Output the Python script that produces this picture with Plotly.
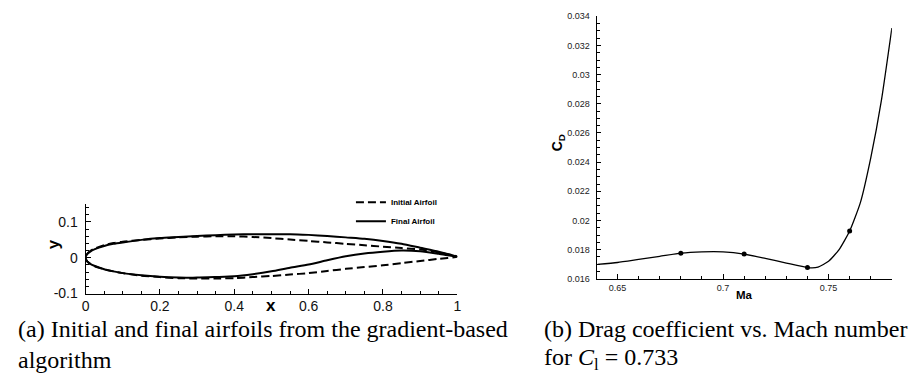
import plotly.graph_objects as go

# ---------------- data: airfoils (panel a) ----------------
x_stations = [0, 0.005, 0.0125, 0.025, 0.05, 0.075, 0.1, 0.15, 0.2, 0.25, 0.3, 0.35,
              0.4, 0.45, 0.5, 0.55, 0.6, 0.65, 0.7, 0.75, 0.8, 0.85, 0.9, 0.95, 1.0]
initial_upper = [0, 0.012, 0.019, 0.026, 0.035, 0.041, 0.045, 0.050, 0.054, 0.057, 0.059, 0.060,
                 0.060, 0.058, 0.055, 0.051, 0.047, 0.043, 0.039, 0.035, 0.031, 0.027, 0.023, 0.015, 0.003]
initial_lower = [0, -0.011, -0.017, -0.024, -0.032, -0.038, -0.043, -0.050, -0.054, -0.057, -0.058, -0.058,
                 -0.057, -0.054, -0.051, -0.047, -0.043, -0.037, -0.031, -0.026, -0.021, -0.015, -0.009, -0.003, 0.003]
final_upper = [0, 0.011, 0.017, 0.024, 0.033, 0.039, 0.043, 0.050, 0.055, 0.058, 0.061, 0.063,
               0.065, 0.066, 0.066, 0.066, 0.064, 0.061, 0.057, 0.053, 0.047, 0.039, 0.028, 0.017, 0.003]
final_lower = [0, -0.011, -0.017, -0.023, -0.032, -0.038, -0.043, -0.049, -0.053, -0.055, -0.0555, -0.054,
               -0.052, -0.046, -0.038, -0.028, -0.019, -0.007, 0.004, 0.012, 0.017, 0.020, 0.018, 0.011, 0.003]

# ---------------- data: drag polar (panel b) ----------------
mach_curve = [0.6405, 0.65, 0.66, 0.67, 0.68, 0.69, 0.70, 0.71, 0.72, 0.73, 0.74, 0.745,
              0.75, 0.755, 0.76, 0.765, 0.77, 0.775, 0.78]
cd_curve = [0.01699, 0.01712, 0.01733, 0.01754, 0.01776, 0.01785, 0.01785, 0.01770, 0.01740, 0.01708,
            0.01677, 0.01680, 0.01720, 0.01800, 0.01928, 0.02119, 0.02430, 0.02820, 0.03320]
mach_points = [0.68, 0.71, 0.74, 0.76]
cd_points = [0.01776, 0.0177, 0.01677, 0.01928]

# tick labels
a_xticks = [0, 0.2, 0.4, 0.6, 0.8, 1]
a_xticktext = ["0", "0.2", "0.4", "0.6", "0.8", "1"]
a_yticks = [-0.1, 0, 0.1]
a_yticktext = ["-0.1", "0", "0.1"]
b_xticks = [0.65, 0.7, 0.75]
b_xticktext = ["0.65", "0.7", "0.75"]
b_yticks = [0.016, 0.018, 0.02, 0.022, 0.024, 0.026, 0.028, 0.03, 0.032, 0.034]
b_yticktext = ["0.016", "0.018", "0.02", "0.022", "0.024", "0.026", "0.028", "0.03", "0.032", "0.034"]

W, H = 915, 389
def px(v):
    return v / W
def py(v):
    return 1 - v / H

fig = go.Figure()

def closed(upper, lower):
    xs = list(reversed(x_stations)) + x_stations[1:]
    ys = list(reversed(upper)) + lower[1:]
    return xs, ys

xi, yi = closed(initial_upper, initial_lower)
xf, yf = closed(final_upper, final_lower)

fig.add_trace(go.Scatter(x=xi, y=yi, mode="lines", name="Initial Airfoil",
                         line=dict(color="black", width=2, dash="8px,4px", shape="spline", smoothing=0.6),
                         xaxis="x", yaxis="y"))
fig.add_trace(go.Scatter(x=xf, y=yf, mode="lines", name="Final Airfoil",
                         line=dict(color="black", width=2, shape="spline", smoothing=0.6),
                         xaxis="x", yaxis="y"))
fig.add_trace(go.Scatter(x=mach_curve, y=cd_curve, mode="lines", showlegend=False,
                         line=dict(color="black", width=1.3, shape="spline", smoothing=0.5),
                         xaxis="x2", yaxis="y2"))
fig.add_trace(go.Scatter(x=mach_points, y=cd_points, mode="markers", showlegend=False,
                         marker=dict(color="black", size=5),
                         xaxis="x2", yaxis="y2"))

axis_common = dict(showline=True, linecolor="black", linewidth=1, showgrid=False, zeroline=False,
                   ticks="inside", tickcolor="black", mirror=False, tickmode="array")

fig.update_layout(
    width=W, height=H, margin=dict(l=0, r=0, t=0, b=0),
    paper_bgcolor="white", plot_bgcolor="white",
    showlegend=True,
    legend=dict(x=px(350), y=py(189), xanchor="left", yanchor="top",
                font=dict(family="Liberation Sans", size=8, color="black", weight="bold"),
                bgcolor="rgba(0,0,0,0)", itemwidth=30, tracegroupgap=0),
    xaxis=dict(axis_common, domain=[px(82.3), px(457.3)], range=[0, 1], anchor="y",
               tickvals=a_xticks, ticktext=a_xticktext, ticklen=5, tickwidth=1,
               tickfont=dict(family="Liberation Sans", size=14, color="#111"),
               minor=dict(ticks="inside", tickmode="linear", tick0=0, dtick=0.05, ticklen=3, tickcolor="black")),
    yaxis=dict(axis_common, domain=[py(298.5), py(206)], range=[-0.1, 0.15], anchor="x",
               tickvals=a_yticks, ticktext=a_yticktext, ticklen=5, tickwidth=1, ticklabelstandoff=4,
               tickfont=dict(family="Liberation Sans", size=14, color="#111"),
               minor=dict(ticks="inside", tickmode="linear", tick0=0, dtick=0.02, ticklen=3, tickcolor="black")),
    xaxis2=dict(axis_common, domain=[px(598.7), px(895.7)], range=[0.6405, 0.78], anchor="y2",
                tickvals=b_xticks, ticktext=b_xticktext, ticklen=4.5, tickwidth=1,
                tickfont=dict(family="Liberation Sans", size=9, color="#222"),
                minor=dict(ticks="inside", tickmode="linear", tick0=0.65, dtick=0.01, ticklen=2.5, tickcolor="black")),
    yaxis2=dict(axis_common, domain=[py(283.3), py(11.7)], range=[0.016, 0.034], anchor="x2",
                tickvals=b_yticks, ticktext=b_yticktext, ticklen=4, tickwidth=1, ticklabelstandoff=5,
                tickfont=dict(family="Liberation Sans", size=9, color="#222"),
                minor=dict(ticks="inside", tickmode="linear", tick0=0.016, dtick=0.0005, ticklen=2.5, tickcolor="black")),
)

ann = []
centered = dict(xref="paper", yref="paper", xanchor="center", yanchor="middle", showarrow=False)
# axis titles
ann.append(dict(centered, text="<b>x</b>", x=px(269), y=py(311),
                font=dict(family="Liberation Sans", size=17, color="black")))
ann.append(dict(centered, text="<b>y</b>", x=px(50), y=py(248), textangle=-90,
                font=dict(family="Liberation Sans", size=17, color="black")))
ann.append(dict(centered, text="<b>Ma</b>", x=px(746.7), y=py(300),
                font=dict(family="Liberation Sans", size=11.5, color="black")))
ann.append(dict(centered, text="<b>C</b><sub><b>D</b></sub>", x=px(559), y=py(143), textangle=-90,
                font=dict(family="Liberation Sans", size=14, color="black")))
# captions
cap_font = dict(family="Liberation Serif", size=24, color="black")
left = dict(xref="paper", yref="paper", xanchor="left", yanchor="middle", showarrow=False, font=cap_font)
ann.append(dict(left, text="(a) Initial and final airfoils from the gradient-based", x=px(11.7), y=py(335.7)))
ann.append(dict(left, text="algorithm", x=px(11.7), y=py(367.7)))
ann.append(dict(left, text="(b) Drag coefficient vs. Mach number", x=px(543), y=py(335.7)))
ann.append(dict(left, text="for <i>C</i><sub>l</sub> = 0.733", x=px(543), y=py(366.7)))
fig.update_layout(annotations=ann)

fig.write_html("out.html", config={"displayModeBar": False},
               post_script="document.body.style.margin='0';document.body.style.overflow='hidden';")
